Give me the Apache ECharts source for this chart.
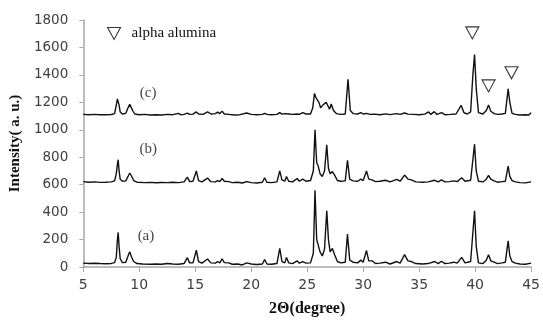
<!DOCTYPE html>
<html>
<head>
<meta charset="utf-8">
<script src="https://cdn.jsdelivr.net/npm/echarts@6/dist/echarts.min.js"></script>
<style>
  html, body { margin: 0; padding: 0; background: #fff; }
  #main { width: 543px; height: 322px; }
</style>
</head>
<body>
<div id="main"></div>
<script>
// 2theta / intensity pairs
var patternA = [
  [5.0,28],[5.5,26],[6.0,27],[6.5,25],[7.0,24],[7.5,26],[7.8,32],[7.95,70],[8.05,200],[8.12,252],[8.2,150],[8.3,60],[8.5,32],[8.8,35],
  [9.0,80],[9.15,112],[9.3,75],[9.4,70],[9.5,40],[9.8,25],[10.3,22],[11,20],[11.5,22],[12,20],[12.5,25],[13,22],[13.5,20],[14.0,25],
  [14.3,68],[14.5,30],[14.8,30],[15.1,122],[15.3,40],[15.6,28],[16.1,58],[16.4,30],[16.8,28],[17.0,40],[17.2,30],[17.4,60],[17.6,32],
  [18.0,30],[18.3,20],[18.8,22],[19.2,15],[19.6,30],[20,22],[20.5,18],[21.0,22],[21.2,55],[21.4,22],[21.8,20],[22.3,25],[22.55,135],
  [22.75,40],[23.0,30],[23.15,70],[23.35,30],[23.7,25],[24.1,45],[24.3,28],[24.6,40],[24.9,28],[25.3,30],[25.55,100],[25.7,560],
  [25.85,200],[25.97,205],[26.15,110],[26.35,80],[26.55,130],[26.75,410],[26.9,200],[27.05,110],[27.25,135],[27.45,90],[27.7,40],
  [28.0,30],[28.4,35],[28.6,240],[28.8,50],[29.1,35],[29.5,30],[29.8,50],[30.0,35],[30.3,120],[30.5,45],[30.8,45],[31.1,25],[31.5,28],
  [32.0,35],[32.4,22],[33.0,40],[33.3,28],[33.7,90],[34.0,45],[34.3,40],[34.7,25],[35.3,22],[35.8,25],[36.4,40],[36.7,25],[37.0,42],
  [37.3,25],[37.7,28],[38.1,35],[38.4,28],[38.8,70],[39.1,30],[39.6,40],[39.95,410],[40.1,150],[40.3,30],[40.7,25],[41.0,50],[41.2,90],
  [41.4,45],[41.7,35],[42.0,25],[42.4,30],[42.7,35],[42.95,190],[43.1,80],[43.3,40],[43.6,28],[44.0,22],[44.5,20],[45.0,28]
]
var patternB = [
  [5.0,622],[5.5,618],[6.0,620],[6.5,617],[7.0,618],[7.5,620],[7.8,628],[7.95,680],[8.05,750],[8.12,782],[8.2,700],[8.3,640],[8.5,625],
  [8.8,628],[9.0,660],[9.15,685],[9.3,665],[9.4,662],[9.5,630],[9.8,618],[10.5,615],[11,617],[11.5,614],[12,616],[12.5,615],[13,618],
  [13.5,615],[14.0,620],[14.3,655],[14.5,622],[14.8,625],[15.1,700],[15.3,630],[15.6,620],[16.1,648],[16.4,622],[16.8,620],[17.0,630],
  [17.2,622],[17.4,645],[17.6,625],[18.0,622],[18.3,615],[18.8,618],[19.2,612],[19.6,622],[20,615],[20.5,612],[21.0,618],[21.2,650],
  [21.4,618],[21.8,615],[22.3,620],[22.55,700],[22.75,635],[23.0,625],[23.15,660],[23.35,625],[23.7,620],[24.1,645],[24.3,625],[24.6,640],
  [24.9,625],[25.3,630],[25.55,700],[25.7,1000],[25.85,760],[25.97,740],[26.15,680],[26.35,660],[26.55,700],[26.75,890],[26.9,720],
  [27.05,680],[27.25,695],[27.45,670],[27.7,630],[28.0,625],[28.4,628],[28.6,778],[28.8,640],[29.1,628],[29.5,625],[29.8,640],[30.0,630],
  [30.3,700],[30.5,640],[30.8,635],[31.1,622],[31.5,625],[32.0,632],[32.4,620],[33.0,638],[33.3,625],[33.7,670],[34.0,640],[34.3,635],
  [34.7,620],[35.3,618],[35.8,620],[36.4,632],[36.7,620],[37.0,635],[37.3,620],[37.7,622],[38.1,628],[38.4,622],[38.8,650],[39.1,625],
  [39.6,632],[39.95,895],[40.1,700],[40.3,625],[40.7,620],[41.0,640],[41.2,668],[41.4,640],[41.7,628],[42.0,618],[42.4,622],[42.7,625],
  [42.95,735],[43.1,660],[43.3,630],[43.6,620],[44.0,615],[44.5,613],[45.0,620]
]
var patternC = [
  [5.0,1112],[5.5,1110],[6.0,1112],[6.5,1109],[7.0,1110],[7.5,1111],[7.8,1118],[7.95,1180],[8.05,1225],[8.12,1232],[8.2,1180],[8.3,1130],
  [8.5,1115],[8.8,1120],[9.0,1160],[9.15,1185],[9.3,1160],[9.45,1135],[9.6,1115],[10,1110],[10.5,1112],[11,1108],[11.5,1110],[12,1108],
  [12.5,1112],[13,1110],[13.5,1120],[13.7,1110],[14.0,1112],[14.3,1122],[14.5,1112],[14.8,1114],[15.1,1130],[15.3,1115],[15.7,1112],
  [16.1,1130],[16.4,1115],[16.8,1118],[17.0,1128],[17.2,1118],[17.4,1136],[17.6,1115],[18.0,1112],[18.5,1108],[19.0,1110],[19.6,1122],
  [20,1112],[20.5,1110],[21.0,1112],[21.2,1120],[21.4,1112],[21.8,1110],[22.3,1112],[22.55,1125],[22.75,1114],[23.0,1118],[23.15,1130],
  [23.35,1115],[23.7,1112],[24.1,1115],[24.3,1112],[24.6,1125],[24.9,1115],[25.3,1115],[25.5,1160],[25.65,1265],[25.78,1235],[25.9,1245],
  [26.05,1200],[26.2,1160],[26.4,1180],[26.55,1190],[26.7,1200],[26.85,1175],[27.0,1150],[27.15,1188],[27.35,1140],[27.6,1118],[28.0,1112],
  [28.4,1115],[28.65,1368],[28.85,1140],[29.1,1118],[29.5,1115],[29.8,1125],[30.0,1115],[30.3,1120],[30.6,1112],[31.0,1114],[31.5,1110],
  [32.0,1116],[32.4,1110],[33.0,1118],[33.3,1112],[33.7,1122],[34.0,1114],[34.5,1112],[35.0,1110],[35.5,1114],[35.85,1130],[36.05,1112],
  [36.35,1132],[36.6,1112],[37.0,1125],[37.3,1110],[37.8,1112],[38.3,1115],[38.75,1178],[39.0,1125],[39.3,1115],[39.6,1130],[39.8,1400],
  [39.95,1548],[40.1,1300],[40.3,1125],[40.7,1115],[41.0,1140],[41.2,1180],[41.4,1135],[41.7,1118],[42.0,1112],[42.4,1115],[42.7,1120],
  [42.95,1298],[43.1,1200],[43.3,1120],[43.6,1112],[44.0,1108],[44.5,1110],[44.8,1108],[45.0,1125]
]
// alpha alumina markers (2theta, height)
var aluminaX = [39.75, 41.2, 43.25]
var aluminaY = [1706, 1320, 1415]
// sample labels
var sampleNames = ['(a)', '(b)', '(c)']
var sampleX = [10.6, 10.8, 10.8]
var sampleY = [225, 857, 1270]

var serif = '"Liberation Serif", "Times New Roman", serif'
var sans = '"DejaVu Sans", sans-serif'
var axisGrey = '#a6a6a6'

function line(name, data){
  return {
    name: name, type: 'line', data: data, symbol: 'none', silent: true,
    lineStyle: { color: '#111', width: 1.4 }
  }
}

var labelData = []
for (var i = 0; i < sampleNames.length; i++) {
  labelData.push({ name: sampleNames[i], value: [sampleX[i], sampleY[i]] })
}
var markerData = []
for (var j = 0; j < aluminaX.length; j++) {
  markerData.push([aluminaX[j], aluminaY[j]])
}

var myChart = echarts.init(document.getElementById('main'))
var option = {
  animation: false,
  grid: { left: 79, right: 11, top: 20, bottom: 54 },
  legend: {
    left: 102, top: 21,
    itemWidth: 13, itemHeight: 12,
    data: [{
      name: 'alpha alumina',
      icon: 'path://M0,0L12,0L6,11Z',
      itemStyle: { color: '#fff', borderColor: '#000', borderWidth: 1.1 }
    }],
    textStyle: { fontFamily: serif, fontSize: 15, color: '#111', padding: [0, 0, 0, 6] }
  },
  xAxis: {
    type: 'value', min: 5, max: 45, interval: 5,
    name: '2\u0398(degree)', nameLocation: 'middle', nameGap: 34,
    nameTextStyle: { fontFamily: serif, fontWeight: 'bold', fontSize: 16, color: '#111' },
    axisLine: { lineStyle: { color: axisGrey, width: 1.5 } },
    axisTick: { show: true, length: 5, lineStyle: { color: axisGrey } },
    axisLabel: { fontFamily: sans, fontSize: 14, color: '#404040', margin: 11 },
    splitLine: { show: false }
  },
  yAxis: {
    type: 'value', min: 0, max: 1800, interval: 200,
    name: 'Intensity( a. u.)', nameLocation: 'middle', nameGap: 48,
    nameTextStyle: { fontFamily: serif, fontWeight: 'bold', fontSize: 15, color: '#111' },
    axisLine: { show: true, lineStyle: { color: axisGrey, width: 1.5 } },
    axisTick: { show: true, length: 4, lineStyle: { color: axisGrey } },
    axisLabel: {
      fontFamily: sans, fontSize: 13.5, color: '#404040', margin: 15,
      formatter: function (v) { return String(v) }
    },
    splitLine: { show: false }
  },
  series: [
    line('a', patternA),
    line('b', patternB),
    line('c', patternC),
    {
      name: 'alpha alumina', type: 'scatter', data: markerData, silent: true,
      symbol: 'path://M0,0L12,0L6,11Z', symbolSize: [13, 12],
      itemStyle: { color: '#fff', borderColor: '#000', borderWidth: 1.1 }
    },
    {
      name: 'labels', type: 'scatter', data: labelData, symbolSize: 0, silent: true,
      label: {
        show: true, position: 'inside', formatter: '{b}',
        fontFamily: serif, fontSize: 15, color: '#111'
      }
    }
  ]
}
myChart.setOption(option)
</script>
</body>
</html>
